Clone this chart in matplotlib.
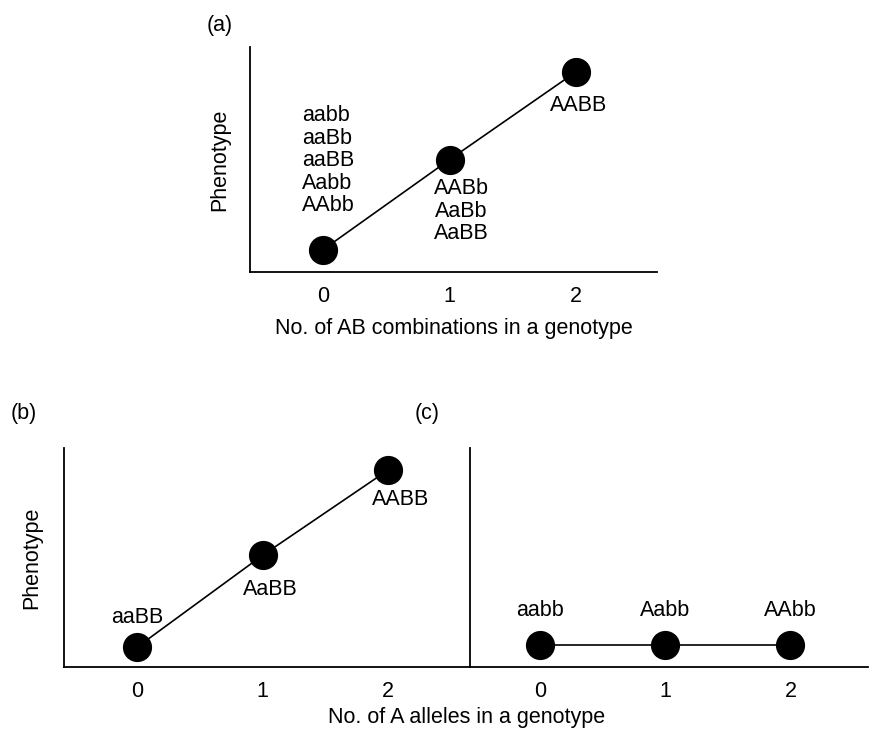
import matplotlib.pyplot as plt

plt.rcParams['font.family'] = ['Liberation Sans', 'DejaVu Sans']
plt.rcParams['font.size'] = 15.5

# Data
x_vals = [0, 1, 2]
xtick_labels = ['0', '1', '2']
pheno_a = [0.10, 0.50, 0.89]
pheno_b = [0.09, 0.51, 0.90]
pheno_c = [0.10, 0.10, 0.10]

geno_a0 = ['aabb', 'aaBb', 'aaBB', 'Aabb', 'AAbb']
geno_a1 = ['AABb', 'AaBb', 'AaBB']
geno_a2 = ['AABB']
geno_b = ['aaBB', 'AaBB', 'AABB']
geno_c = ['aabb', 'Aabb', 'AAbb']

W, H = 869, 729
fig = plt.figure(figsize=(W / 100, H / 100), dpi=100)


def make_axes(l, r, b, t):
    ax = fig.add_axes([l / W, 1 - b / H, (r - l) / W, (b - t) / H])
    for s in ['top', 'right']:
        ax.spines[s].set_visible(False)
    for s in ['left', 'bottom']:
        ax.spines[s].set_linewidth(1.3)
    ax.set_yticks([])
    ax.set_xticks(x_vals)
    ax.set_xticklabels(xtick_labels)
    ax.tick_params(axis='x', length=0, pad=10, labelsize=15.5)
    ax.set_ylim(0, 1)
    return ax


def draw(ax, y):
    ax.plot(x_vals, y, color='black', lw=1.2, zorder=1)
    ax.plot(x_vals, y, 'o', color='black', ms=20, zorder=2)


# (a)
ax_a = make_axes(250, 657, 272, 47)
ax_a.set_xlim(-0.58, 2.64)
draw(ax_a, pheno_a)
ax_a.set_ylabel('Phenotype', labelpad=14)
ax_a.set_xlabel('No. of AB combinations in a genotype', labelpad=8)
ax_a.text(-0.17, 0.495, '\n'.join(geno_a0), ha='left', va='center', linespacing=1.1)
ax_a.text(1.09, 0.27, '\n'.join(geno_a1), ha='center', va='center', linespacing=1.1)
ax_a.text(2.02, 0.74, geno_a2[0], ha='center', va='center')

# (b)
ax_b = make_axes(64, 470, 667, 448)
ax_b.set_xlim(-0.58, 2.65)
draw(ax_b, pheno_b)
ax_b.set_ylabel('Phenotype', labelpad=16)
for xi, lab, yy in zip(x_vals, geno_b, [0.228, 0.356, 0.763]):
    ax_b.text(xi + [0.0, 0.06, 0.1][xi], yy, lab, ha='center', va='center')

# (c)
ax_c = make_axes(470, 868, 667, 448)
ax_c.set_xlim(-0.56, 2.62)
draw(ax_c, pheno_c)
for xi, lab in zip(x_vals, geno_c):
    ax_c.text(xi, 0.26, lab, ha='center', va='center')

fig.text(467 / W, 1 - 718 / H, 'No. of A alleles in a genotype', ha='center', va='center')

fig.text(220 / W, 1 - 25 / H, '(a)', ha='center', va='center')
fig.text(24 / W, 1 - 414 / H, '(b)', ha='center', va='center')
fig.text(427 / W, 1 - 414 / H, '(c)', ha='center', va='center')

fig.savefig('out.png', dpi=100, facecolor='white')
